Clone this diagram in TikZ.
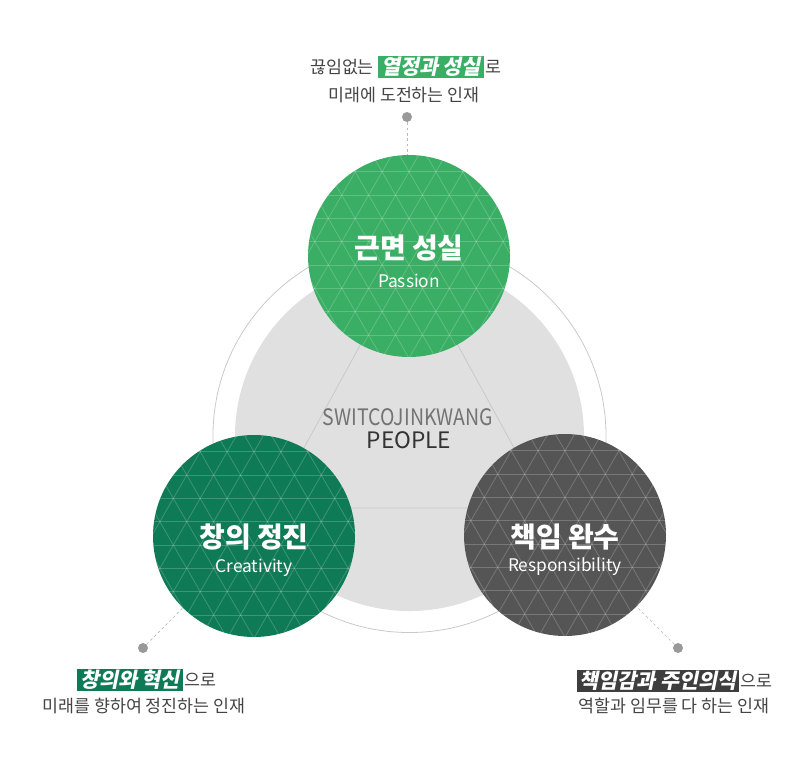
\documentclass[tikz,border=0pt]{standalone}
\usepackage{fontspec}
\setmainfont{Noto Sans CJK KR}
\newfontfamily\hlfont[FakeSlant=0.2]{Noto Sans CJK KR}
\newfontfamily\condfont[FakeStretch=0.86]{Noto Sans CJK KR}
\usetikzlibrary{positioning}

\definecolor{pasc}{HTML}{3AAE64}
\definecolor{crec}{HTML}{0F7A56}
\definecolor{resc}{HTML}{555555}
\definecolor{resbox}{HTML}{3E3E3E}
\definecolor{bgc}{HTML}{E0E0E0}
\definecolor{ringc}{HTML}{C9C9C9}
\definecolor{notec}{HTML}{444444}
\definecolor{dotc}{HTML}{999999}

\tikzset{
    gridline/.style={draw=white, opacity=0.2, line width=0.6pt},
    trigrid/.style={path picture={
        \begin{scope}[shift={(path picture bounding box.center)}]
            \foreach \k in {-5,...,5}
                \draw[gridline] (-110,9+\k*23.3) -- (110,9+\k*23.3);
            \foreach \k in {-8,...,8} {
                \draw[gridline] (\k*26.9,9) ++(60:140) -- ++(240:280);
                \draw[gridline] (\k*26.9,9) ++(120:140) -- ++(300:280);
            }
        \end{scope}}},
    disc/.style={circle, minimum size=151.5pt, inner sep=0pt, trigrid},
    ttl/.style={text=white, font=\bfseries\fontsize{21}{23}\selectfont, inner sep=0pt},
    sub/.style={text=white, font=\fontsize{13}{15}\selectfont, inner sep=0pt},
    note/.style={text=notec, font=\fontsize{13}{15}\selectfont, inner sep=0pt},
    hl/.style={text=white, font=\hlfont\bfseries\fontsize{15.5}{17}\selectfont,
        inner xsep=2pt, inner ysep=1pt, minimum height=17pt},
    dot/.style={circle, fill=dotc, inner sep=0pt, minimum size=7.5pt},
    lead/.style={draw=dotc!70, dashed, dash pattern=on 2pt off 2pt, line width=0.5pt},
    triline/.style={draw=ringc, line width=0.6pt},
}

\begin{document}
\begin{tikzpicture}[x=0.75pt, y=-0.75pt]
    \useasboundingbox (0,0) rectangle (807,760);

    \draw[ringc, line width=0.6pt] (409.5,436) circle (147.4pt);
    \fill[bgc] (409.5,436.5) circle (130.9pt);

    \coordinate (triA) at (409,256);
    \coordinate (triB) at (271,508);
    \coordinate (triC) at (547,508);
    \draw[triline] (triA) -- (triB) -- (triC) -- cycle;

    \node[font=\condfont\fontsize{17}{19}\selectfont, text=black!55, inner sep=0pt] (brand) at (408,417) {SWITCOJINKWANG};
    \node[font=\fontsize{17}{19}\selectfont, text=black!80, inner sep=0pt] (ppl) at (409,440) {PEOPLE};

    \node[disc, fill=pasc] (pas) at (409,256) {};
    \node[disc, fill=crec] (cre) at (254,536) {};
    \node[disc, fill=resc] (res) at (565,535) {};

    \node[ttl] (pasT) at (409,248) {근면 성실};
    \node[sub] (pasS) at (409,281) {Passion};
    \node[ttl] (creT) at (254,537) {창의 정진};
    \node[sub] (creS) at (254,568) {Creativity};
    \node[ttl] (resT) at (565,537) {책임 완수};
    \node[sub] (resS) at (565,567) {Responsibility};

    \node[dot] (dotP) at (407,117) {};
    \node[dot] (dotC) at (143,648) {};
    \node[dot] (dotR) at (678,648) {};
    \draw[lead] (dotP) -- (dotP |- pas.north);
    \draw[lead] (dotC) -- (cre);
    \draw[lead] (dotR) -- (res);

    \node[hl, fill=pasc] (pasH) at (431,67) {열정과 성실};
    \node[note, left=3pt of pasH] (pasA) {끊임없는};
    \node[note, right=1pt of pasH] (pasB) {로};
    \node[note] (pasC) at (404,95) {미래에 도전하는 인재};

    \node[hl, fill=crec] (creH) at (130,680) {창의와 혁신};
    \node[note, right=1pt of creH] (creA) {으로};
    \node[note] (creB) at (144,706) {미래를 향하여 정진하는 인재};

    \node[hl, fill=resbox] (resH) at (658,681) {책임감과 주인의식};
    \node[note, right=1pt of resH] (resA) {으로};
    \node[note] (resB) at (674,706) {역할과 임무를 다 하는 인재};
\end{tikzpicture}
\end{document}
